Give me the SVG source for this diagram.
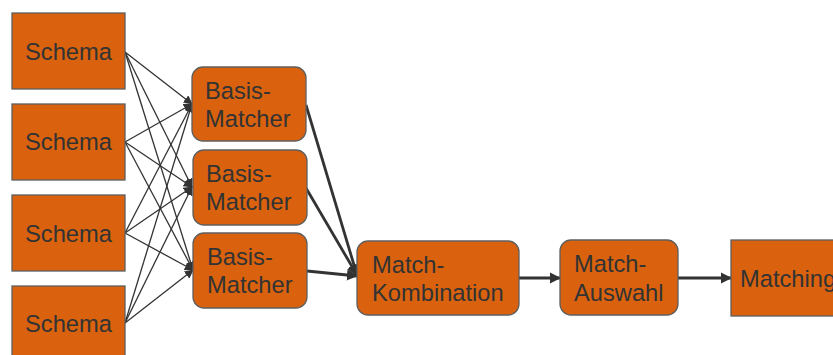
<svg xmlns="http://www.w3.org/2000/svg" width="833" height="355" viewBox="0 0 833 355">
  <style>
    .box { fill: #DA620E; stroke: #5f5f5f; stroke-width: 1.3; }
    .lbl { font-family: "Liberation Sans", Arial, sans-serif; font-size: 23.7px; fill: #333333; }
    .thin { stroke: #333333; stroke-width: 1.3; fill: none; }
    .thick { stroke: #333333; stroke-width: 2.8; fill: none; }
  </style>
  <defs>
    <marker id="arrowSmall" viewBox="0 0 10 10" refX="9" refY="5" markerWidth="7" markerHeight="7" markerUnits="strokeWidth" orient="auto">
      <path d="M0,0 L10,5 L0,10 z" fill="#333333"/>
    </marker>
    <marker id="arrowBig" viewBox="0 0 10 10" refX="9" refY="5" markerWidth="4" markerHeight="4" markerUnits="strokeWidth" orient="auto">
      <path d="M0,0 L10,5 L0,10 z" fill="#333333"/>
    </marker>
  </defs>

  <!-- connectors -->
  <g id="connectors">
    <!-- every schema feeds every basis matcher -->
    <line class="thin" x1="125" y1="52" x2="192" y2="104" marker-end="url(#arrowSmall)"/>
    <line class="thin" x1="125" y1="52" x2="192" y2="187" marker-end="url(#arrowSmall)"/>
    <line class="thin" x1="125" y1="52" x2="193" y2="270" marker-end="url(#arrowSmall)"/>
    <line class="thin" x1="125" y1="142" x2="192" y2="104" marker-end="url(#arrowSmall)"/>
    <line class="thin" x1="125" y1="142" x2="192" y2="187" marker-end="url(#arrowSmall)"/>
    <line class="thin" x1="125" y1="142" x2="193" y2="270" marker-end="url(#arrowSmall)"/>
    <line class="thin" x1="125" y1="233" x2="192" y2="104" marker-end="url(#arrowSmall)"/>
    <line class="thin" x1="125" y1="233" x2="192" y2="187" marker-end="url(#arrowSmall)"/>
    <line class="thin" x1="125" y1="233" x2="193" y2="270" marker-end="url(#arrowSmall)"/>
    <line class="thin" x1="125" y1="323" x2="192" y2="104" marker-end="url(#arrowSmall)"/>
    <line class="thin" x1="125" y1="323" x2="192" y2="187" marker-end="url(#arrowSmall)"/>
    <line class="thin" x1="125" y1="323" x2="193" y2="270" marker-end="url(#arrowSmall)"/>
    <!-- basis matchers into the combination -->
    <line class="thick" x1="306" y1="105" x2="357" y2="275" marker-end="url(#arrowBig)"/>
    <line class="thick" x1="306" y1="188" x2="357" y2="275" marker-end="url(#arrowBig)"/>
    <line class="thick" x1="307" y1="271" x2="357" y2="276" marker-end="url(#arrowBig)"/>
    <!-- pipeline -->
    <line class="thick" x1="519" y1="278" x2="560" y2="278" marker-end="url(#arrowBig)"/>
    <line class="thick" x1="678" y1="278" x2="731" y2="278" marker-end="url(#arrowBig)"/>
  </g>

  <!-- schema inputs -->
  <g id="schema1">
    <rect class="box" x="12" y="13" width="113" height="76"/>
    <text class="lbl" x="25" y="60">Schema</text>
  </g>
  <g id="schema2">
    <rect class="box" x="12" y="104" width="113" height="76"/>
    <text class="lbl" x="25" y="150">Schema</text>
  </g>
  <g id="schema3">
    <rect class="box" x="12" y="195" width="113" height="76"/>
    <text class="lbl" x="25" y="242">Schema</text>
  </g>
  <g id="schema4">
    <rect class="box" x="12" y="286" width="113" height="76"/>
    <text class="lbl" x="25" y="332">Schema</text>
  </g>

  <!-- basis matchers -->
  <g id="basis1">
    <rect class="box" x="192" y="67" width="114" height="74" rx="11"/>
    <text class="lbl" x="205" y="99">Basis-</text>
    <text class="lbl" x="205" y="127">Matcher</text>
  </g>
  <g id="basis2">
    <rect class="box" x="193" y="150" width="114" height="75" rx="11"/>
    <text class="lbl" x="206" y="182">Basis-</text>
    <text class="lbl" x="206" y="210">Matcher</text>
  </g>
  <g id="basis3">
    <rect class="box" x="193" y="233" width="114" height="75" rx="11"/>
    <text class="lbl" x="207" y="265">Basis-</text>
    <text class="lbl" x="207" y="293">Matcher</text>
  </g>

  <!-- combination, selection, result -->
  <g id="kombination">
    <rect class="box" x="357" y="241" width="162" height="74" rx="11"/>
    <text class="lbl" x="372" y="273">Match-</text>
    <text class="lbl" x="372" y="301">Kombination</text>
  </g>
  <g id="auswahl">
    <rect class="box" x="560" y="240" width="118" height="75" rx="11"/>
    <text class="lbl" x="574" y="272">Match-</text>
    <text class="lbl" x="574" y="301">Auswahl</text>
  </g>
  <g id="matching">
    <rect class="box" x="731" y="240" width="115" height="76"/>
    <text class="lbl" x="740" y="287">Matching</text>
  </g>
</svg>
